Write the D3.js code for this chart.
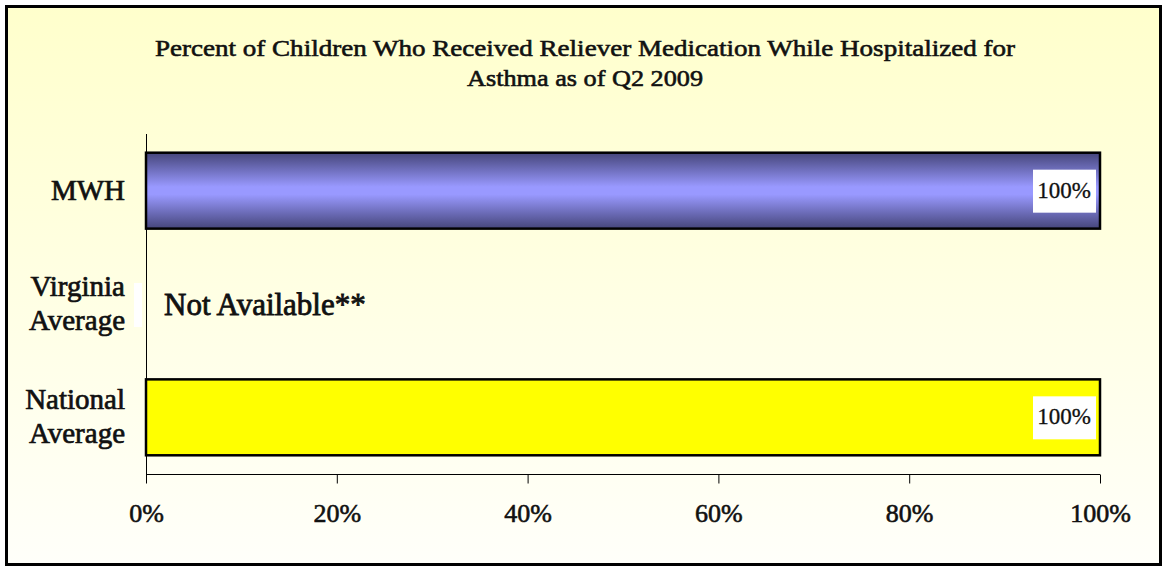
<!DOCTYPE html>
<html>
<head>
    <title>Relievers chart</title>
    <script src="https://cdnjs.cloudflare.com/ajax/libs/d3/7.8.5/d3.min.js"></script>
    <style>
        body { margin: 0; background: #fff; }
        text { font-family: "Liberation Serif", "DejaVu Serif", serif; fill: #111; stroke: #111; stroke-width: 0.6px; }
    </style>
</head>
<body>
    <div id="vis"></div>

    <script>
        var categories = ["MWH", "Virginia Average", "National Average"];
        var values = [100, null, 100];
        var barColors = ["url(#blueGrad)", "none", "#ffff00"];
        var tickValues = [0, 20, 40, 60, 80, 100];
        var titleLines = ["Percent of Children Who Received Reliever Medication While Hospitalized for",
                          "Asthma as of Q2 2009"];
        var titleWidths = [860, 236];

        var W = 1165, H = 571;
        var svg = d3.select("#vis").append("svg")
            .attr("width", W)
            .attr("height", H);

        var defs = svg.append("defs");
        var bg = defs.append("linearGradient").attr("id", "bgGrad")
            .attr("x1", 0).attr("y1", 0).attr("x2", 0).attr("y2", 1);
        bg.append("stop").attr("offset", "0%").attr("stop-color", "#ffffcc");
        bg.append("stop").attr("offset", "100%").attr("stop-color", "#fffffa");

        var bl = defs.append("linearGradient").attr("id", "blueGrad")
            .attr("x1", 0).attr("y1", 0).attr("x2", 0).attr("y2", 1);
        bl.append("stop").attr("offset", "0%").attr("stop-color", "#45457a");
        bl.append("stop").attr("offset", "45%").attr("stop-color", "#9999ff");
        bl.append("stop").attr("offset", "55%").attr("stop-color", "#9999ff");
        bl.append("stop").attr("offset", "100%").attr("stop-color", "#45457a");

        // frame
        svg.append("rect")
            .attr("x", 6.5).attr("y", 6.5)
            .attr("width", 1154).attr("height", 558)
            .style("fill", "url(#bgGrad)")
            .style("stroke", "#000")
            .style("stroke-width", 3);

        // title
        svg.append("text")
            .attr("text-anchor", "middle")
            .style("font-size", "24px")
            .selectAll("tspan").data(titleLines).enter().append("tspan")
            .attr("x", 585)
            .attr("y", function(d, i) { return 56 + i * 30; })
            .attr("textLength", function(d, i) { return titleWidths[i]; })
            .attr("lengthAdjust", "spacingAndGlyphs")
            .text(function(d) { return d; });

        var x = d3.scaleLinear().domain([0, 100]).range([146, 1100]);
        var y = d3.scaleBand().domain(categories).range([134, 474]).paddingInner(0.33).paddingOuter(0.165);

        // bars
        categories.forEach(function(c, i) {
            if (values[i] == null) return;
            svg.append("rect")
                .attr("x", x(0))
                .attr("y", y(c))
                .attr("width", x(values[i]) - x(0))
                .attr("height", y.bandwidth())
                .style("fill", barColors[i])
                .style("stroke", "#000")
                .style("stroke-width", 2.5);

            var cy = y(c) + y.bandwidth() / 2;
            svg.append("rect")
                .attr("x", x(values[i]) - 67)
                .attr("y", cy - 21)
                .attr("width", 63)
                .attr("height", 43)
                .style("fill", "#fff");
            svg.append("text")
                .attr("x", x(values[i]) - 36)
                .attr("y", cy + 7)
                .attr("text-anchor", "middle")
                .style("font-size", "23px")
                .style("stroke-width", "0.3px")
                .text(values[i] + "%");
        });

        // not available note
        svg.append("text")
            .attr("x", 164)
            .attr("y", y(categories[1]) + y.bandwidth() / 2 + 10.5)
            .style("font-size", "31px")
            .style("stroke-width", "0.8px")
            .text("Not Available**");

        // odd little white strip next to Virginia label
        svg.append("rect")
            .attr("x", 134).attr("y", 283)
            .attr("width", 8).attr("height", 44)
            .style("fill", "#fff");

        // y axis line
        svg.append("line")
            .attr("x1", 146.5).attr("x2", 146.5)
            .attr("y1", 134).attr("y2", 474)
            .style("stroke", "#000").style("stroke-width", 1);

        // category labels
        categories.forEach(function(c) {
            var words = c.split(" ");
            var cy = y(c) + y.bandwidth() / 2;
            var t = svg.append("text")
                .attr("text-anchor", "end")
                .style("font-size", "29px")
                .style("stroke-width", "0.7px");
            words.forEach(function(w, j) {
                t.append("tspan")
                    .attr("x", 125)
                    .attr("y", cy + 9 + (j - (words.length - 1) / 2) * 34)
                    .text(w);
            });
        });

        // x axis
        var xAxis = d3.axisBottom(x)
            .tickValues(tickValues)
            .tickFormat(function(d) { return d + "%"; })
            .tickSize(9)
            .tickPadding(20.5);
        var gx = svg.append("g")
            .attr("transform", "translate(0,474.5)")
            .call(xAxis);
        gx.select(".domain").attr("d", "M" + x(0) + ",0H" + x(100)).style("stroke", "#000");
        gx.selectAll(".tick line").style("stroke", "#000");
        gx.selectAll(".tick text")
            .style("font-family", "Liberation Serif, DejaVu Serif, serif")
            .style("font-size", "26px")
            .style("fill", "#111")
            .style("stroke", "#111")
            .style("stroke-width", "0.6px");
    </script>
</body>
</html>
